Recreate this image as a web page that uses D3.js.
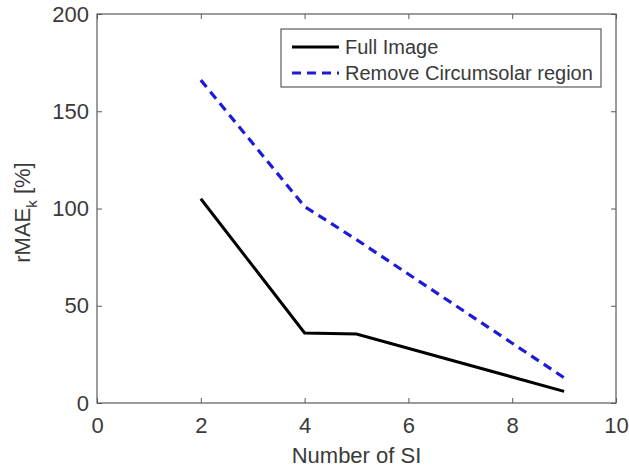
<!DOCTYPE html>
<meta charset="utf-8">
<script src="https://cdn.jsdelivr.net/npm/d3@7"></script>
<html>
<head>
<style>
body { margin: 0; background: #fff; }
text { font-family: "Liberation Sans", Arial, sans-serif; fill: #3a3a3a; }
</style>
</head>
<body>
<div id="chart"></div>
<script>
// data
var numSI = [2, 4, 5, 9];
var fullImage = [105, 36, 35.5, 6];
var removeCircumsolar = [166, 101, 84, 13];
var xTicks = [0, 2, 4, 6, 8, 10];
var yTicks = [0, 50, 100, 150, 200];
var seriesNames = ["Full Image", "Remove Circumsolar region"];

var W = 629, H = 473;
var margin = {top: 14, right: 13, bottom: 70, left: 97},
    width = W - margin.left - margin.right,
    height = H - margin.top - margin.bottom;

var svg = d3.select("#chart").append("svg")
    .attr("width", W).attr("height", H)
  .append("g")
    .attr("transform", "translate(" + margin.left + "," + margin.top + ")");

var x = d3.scaleLinear().domain([0, 10]).range([0, width]);
var y = d3.scaleLinear().domain([0, 200]).range([height, 0]);

var axisCol = "#5a5a5a";

// box
svg.append("rect")
  .attr("width", width).attr("height", height)
  .attr("fill", "none").attr("stroke", axisCol).attr("stroke-width", 1.2);

// bottom axis, ticks inward
var gx = svg.append("g").attr("transform", "translate(0," + height + ")")
  .call(d3.axisBottom(x).tickValues(xTicks).tickSize(-5).tickPadding(14));
var gy = svg.append("g")
  .call(d3.axisLeft(y).tickValues(yTicks).tickSize(-5).tickPadding(8));
// top & right ticks
svg.append("g").call(d3.axisTop(x).tickValues(xTicks).tickSize(-5).tickFormat(""));
svg.append("g").attr("transform", "translate(" + width + ",0)")
  .call(d3.axisRight(y).tickValues(yTicks).tickSize(-5).tickFormat(""));

svg.selectAll(".domain").remove();
svg.selectAll(".tick line").attr("stroke", axisCol);
svg.selectAll(".tick text").style("font-size", "22px").attr("fill", "#3a3a3a");

// axis labels
svg.append("text")
  .attr("x", width / 2).attr("y", height + 60)
  .attr("text-anchor", "middle").style("font-size", "22px")
  .text("Number of SI");

var yl = svg.append("text")
  .attr("transform", "translate(-67," + (height / 2 + 4) + ") rotate(-90)")
  .attr("text-anchor", "middle").style("font-size", "22px");
yl.append("tspan").text("rMAE");
yl.append("tspan").attr("dy", 7).style("font-size", "15px").text("k");
yl.append("tspan").attr("dy", -7).text(" [%]");

// lines
var line = function(vals) {
  return d3.line()
    .x(function(d, i) { return x(numSI[i]); })
    .y(function(d) { return y(d); })(vals);
};

svg.append("path")
  .attr("d", line(removeCircumsolar))
  .attr("fill", "none").attr("stroke", "#1c1cd8")
  .attr("stroke-width", 3.2).attr("stroke-dasharray", "9,6");

svg.append("path")
  .attr("d", line(fullImage))
  .attr("fill", "none").attr("stroke", "#000")
  .attr("stroke-width", 3);

// legend
var lg = svg.append("g").attr("transform", "translate(" + (281 - margin.left) + "," + (29 - margin.top) + ")");
lg.append("rect").attr("width", 320).attr("height", 58)
  .attr("fill", "#fff").attr("stroke", axisCol).attr("stroke-width", 1.2);
var styles = [{c: "#000", d: null}, {c: "#1c1cd8", d: "9,6"}];
seriesNames.forEach(function(n, i) {
  var yy = 18 + i * 26;
  lg.append("line").attr("x1", 11).attr("x2", 58).attr("y1", yy).attr("y2", yy)
    .attr("stroke", styles[i].c).attr("stroke-width", 3)
    .attr("stroke-dasharray", styles[i].d);
  lg.append("text").attr("x", 64).attr("y", yy + 7)
    .style("font-size", "20px").text(n);
});
</script>
</body>
</html>
